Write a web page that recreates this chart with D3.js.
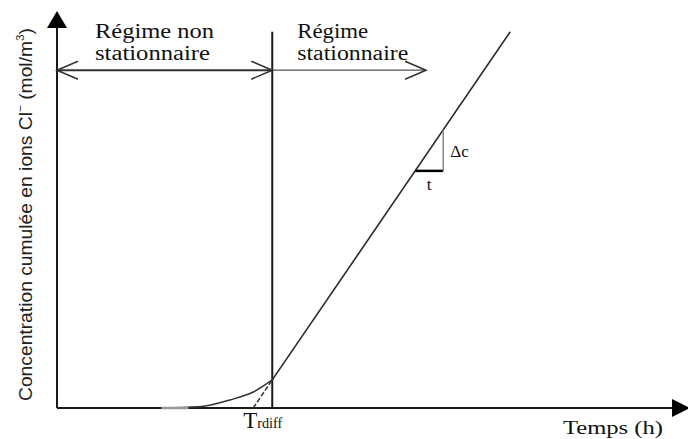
<!DOCTYPE html>
<html>
<head>
<meta charset="utf-8">
<script src="https://cdn.jsdelivr.net/npm/d3@7"></script>
<style>
  body { margin: 0; background: #fff; }
  svg { display: block; }
  .serif { font-family: "Liberation Serif", "DejaVu Serif", serif; fill: #111; }
  .sans { font-family: "Liberation Sans", Arial, sans-serif; fill: #222; }
</style>
</head>
<body>
<svg id="chart" width="688" height="439"></svg>
<script>
// time (arbitrary units) / concentration (arbitrary units)
const transientTime = [17, 23, 28.1, 31.9, 35];
const transientConc = [0, 0.3, 2.1, 4.2, 7.4];
const steadyTime = [31.9, 35, 73.7];
const steadyConc = [0, 7.4, 99];
const tDiff = 31.9;
const tBoundary = 35;
const regimeY = 88.9;
const regimeEnd = 60;
const slopeTime = [58.2, 62.8];
const slopeConc = 62.4;
const regimeLabels = [['Régime non', 'stationnaire'], ['Régime', 'stationnaire']];

const width = 688, height = 439;
const svg = d3.select('#chart');

const x = d3.scaleLinear().domain([0, 100]).range([57, 672]);
const y = d3.scaleLinear().domain([0, 100]).range([408, 28]);

const ink = '#1a1a1a';

// axes
svg.append('line')
  .attr('x1', x(0)).attr('y1', y(0))
  .attr('x2', x(0)).attr('y2', y(100) - 4)
  .attr('stroke', ink).attr('stroke-width', 2);
svg.append('line')
  .attr('x1', x(0)).attr('y1', y(0))
  .attr('x2', x(100)).attr('y2', y(0))
  .attr('stroke', ink).attr('stroke-width', 2);
// filled arrowheads
svg.append('path')
  .attr('d', `M${x(0)},${y(100) - 17} L${x(0) - 10},${y(100)} L${x(0) + 10},${y(100)} Z`)
  .attr('fill', '#000');
svg.append('path')
  .attr('d', `M${x(100) + 18},${y(0)} L${x(100)},${y(0) - 9} L${x(100)},${y(0) + 9} Z`)
  .attr('fill', '#000');

// boundary between regimes
svg.append('line')
  .attr('x1', x(tBoundary)).attr('y1', y(0))
  .attr('x2', x(tBoundary)).attr('y2', y(99))
  .attr('stroke', ink).attr('stroke-width', 2);

// regime arrows
svg.append('line')
  .attr('x1', x(0)).attr('y1', y(regimeY))
  .attr('x2', x(tBoundary)).attr('y2', y(regimeY))
  .attr('stroke', '#333').attr('stroke-width', 2);
svg.append('line')
  .attr('x1', x(tBoundary)).attr('y1', y(regimeY))
  .attr('x2', x(regimeEnd)).attr('y2', y(regimeY))
  .attr('stroke', '#555').attr('stroke-width', 1.2);

function chevron(tipX, tipY, dir) {
  const back = tipX - dir * 21;
  return `M${back},${tipY - 9} L${tipX},${tipY} L${back},${tipY + 9}`;
}
svg.append('path').attr('d', chevron(x(0), y(regimeY), -1))
  .attr('fill', 'none').attr('stroke', '#333').attr('stroke-width', 1.6);
svg.append('path').attr('d', chevron(x(tBoundary), y(regimeY), 1))
  .attr('fill', 'none').attr('stroke', '#333').attr('stroke-width', 1.6);
svg.append('path').attr('d', chevron(x(regimeEnd), y(regimeY), 1))
  .attr('fill', 'none').attr('stroke', '#333').attr('stroke-width', 1.6);

// regime labels
const labelX = [x(0) + 38, x(tBoundary) + 25];
regimeLabels.forEach((lines, i) => {
  const t = svg.append('text').attr('class', 'serif').attr('font-size', 20);
  t.append('tspan').attr('x', labelX[i]).attr('y', 38)
    .attr('textLength', i === 0 ? 119 : 71).attr('lengthAdjust', 'spacingAndGlyphs')
    .text(lines[0]);
  t.append('tspan').attr('x', labelX[i]).attr('y', 60)
    .attr('textLength', i === 0 ? 115 : 111).attr('lengthAdjust', 'spacingAndGlyphs')
    .text(lines[1]);
});

// transient curve
const transient = transientTime.map((t, i) => [t, transientConc[i]]);
svg.append('path')
  .datum(transient)
  .attr('d', d3.line().x(d => x(d[0])).y(d => y(d[1])).curve(d3.curveMonotoneX))
  .attr('fill', 'none').attr('stroke', '#333').attr('stroke-width', 1.5);
svg.append('line')
  .attr('x1', x(transientTime[0])).attr('y1', y(0))
  .attr('x2', x(transientTime[1]) - 10).attr('y2', y(0))
  .attr('stroke', '#999').attr('stroke-width', 2.5);

// steady-state line: dashed extrapolation + solid
const steady = steadyTime.map((t, i) => [t, steadyConc[i]]);
const lineGen = d3.line().x(d => x(d[0])).y(d => y(d[1]));
svg.append('path')
  .datum(steady.slice(0, 2))
  .attr('d', lineGen)
  .attr('fill', 'none').attr('stroke', '#333').attr('stroke-width', 1.5)
  .attr('stroke-dasharray', '5,2');
svg.append('path')
  .datum(steady.slice(1))
  .attr('d', lineGen)
  .attr('fill', 'none').attr('stroke', '#2a2a2a').attr('stroke-width', 1.6);

// slope triangle
const slope = (steadyConc[2] - steadyConc[0]) / (steadyTime[2] - steadyTime[0]);
const topConc = steadyConc[0] + slope * (slopeTime[1] - steadyTime[0]);
svg.append('line')
  .attr('x1', x(slopeTime[0])).attr('y1', y(slopeConc))
  .attr('x2', x(slopeTime[1])).attr('y2', y(slopeConc))
  .attr('stroke', '#000').attr('stroke-width', 2.5);
svg.append('line')
  .attr('x1', x(slopeTime[1])).attr('y1', y(slopeConc))
  .attr('x2', x(slopeTime[1])).attr('y2', y(topConc))
  .attr('stroke', '#888').attr('stroke-width', 1.5);
svg.append('text').attr('class', 'serif').attr('font-size', 17)
  .attr('x', x(slopeTime[1]) + 7).attr('y', y(slopeConc) - 14)
  .text('Δc');
svg.append('text').attr('class', 'serif').attr('font-size', 17)
  .attr('x', x((slopeTime[0] + slopeTime[1]) / 2)).attr('y', y(slopeConc) + 19)
  .attr('text-anchor', 'middle')
  .text('t');

// Tdiff label
const td = svg.append('text').attr('class', 'serif')
  .attr('x', x(tDiff) - 10).attr('y', 428);
td.append('tspan').attr('font-size', 23).text('T');
td.append('tspan').attr('font-size', 14).attr('textLength', 25)
  .attr('lengthAdjust', 'spacingAndGlyphs').text('rdiff');

// axis titles
svg.append('text').attr('class', 'serif').attr('font-size', 19)
  .attr('x', 563).attr('y', 434)
  .attr('textLength', 100).attr('lengthAdjust', 'spacingAndGlyphs')
  .text('Temps (h)');

const yl = svg.append('text').attr('class', 'sans').attr('font-size', 18)
  .attr('transform', 'translate(32,401) rotate(-90)')
  .attr('textLength', 373).attr('lengthAdjust', 'spacingAndGlyphs');
yl.append('tspan').text('Concentration cumulée en ions Cl');
yl.append('tspan').attr('font-size', 11).attr('dy', -8).text('−');
yl.append('tspan').attr('dy', 8).text(' (mol/m');
yl.append('tspan').attr('font-size', 11).attr('dy', -8).text('3');
yl.append('tspan').attr('dy', 8).text(')');
</script>
</body>
</html>
